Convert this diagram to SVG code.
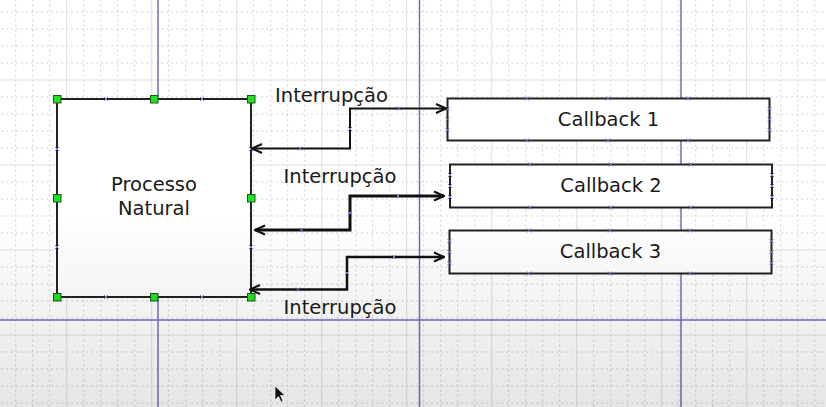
<svg xmlns="http://www.w3.org/2000/svg" width="826" height="407" viewBox="0 0 826 407">
  <defs>
    <pattern id="grid" patternUnits="userSpaceOnUse" x="66.2" y="79.5" width="85" height="85">
      <line x1="17.5" y1="0" x2="17.5" y2="85" class="minor"/>
      <line x1="34.5" y1="0" x2="34.5" y2="85" class="minor"/>
      <line x1="51.5" y1="0" x2="51.5" y2="85" class="minor"/>
      <line x1="68.5" y1="0" x2="68.5" y2="85" class="minor"/>
      <line x1="0" y1="17.5" x2="85" y2="17.5" class="minor"/>
      <line x1="0" y1="34.5" x2="85" y2="34.5" class="minor"/>
      <line x1="0" y1="51.5" x2="85" y2="51.5" class="minor"/>
      <line x1="0" y1="68.5" x2="85" y2="68.5" class="minor"/>
      <line x1="0.5" y1="0" x2="0.5" y2="85" class="major"/>
      <line x1="0" y1="0.5" x2="85" y2="0.5" class="major"/>
    </pattern>
    <linearGradient id="shade" x1="0" y1="0" x2="0" y2="1" gradientUnits="objectBoundingBox">
      <stop offset="0" stop-color="#000" stop-opacity="0"/>
      <stop offset="1" stop-color="#000" stop-opacity="0.1"/>
    </linearGradient>
    <marker id="arr" markerUnits="userSpaceOnUse" viewBox="0 0 12 12" refX="11" refY="6" markerWidth="12" markerHeight="12" orient="auto-start-reverse">
      <path d="M1,1.5 L11,6 L1,10.5" fill="none" stroke="#111" stroke-width="2"/>
    </marker>
    <g id="xm">
      <path d="M-2,-2 L2,2 M-2,2 L2,-2" stroke="#7a7ad0" stroke-width="1" fill="none"/>
    </g>
  </defs>
  <style>
    .minor { stroke: #d2d2d2; stroke-width: 1; stroke-dasharray: 2 3; }
    .major { stroke: #dedede; stroke-width: 1; }
    .guide { stroke: #6f6fbb; stroke-width: 1.5; }
    .box { fill: #ffffff; stroke: #222; stroke-width: 2; }
    .handle { fill: #22e022; stroke: #1a5a1a; stroke-width: 1; }
    .lbl { font-family: "DejaVu Sans", sans-serif; font-size: 19.5px; fill: #1a1a1a; }
    .conn { fill: none; stroke: #111; }
  </style>

  <rect x="0" y="0" width="826" height="407" fill="#ffffff"/>
  <rect x="0" y="0" width="826" height="407" fill="url(#grid)"/>

  <g id="guides">
    <line x1="158" y1="0" x2="158" y2="407" class="guide"/>
    <line x1="419.5" y1="0" x2="419.5" y2="407" class="guide"/>
    <line x1="681" y1="0" x2="681" y2="407" class="guide"/>
    <line x1="0" y1="320" x2="826" y2="320" class="guide"/>
  </g>

  <g id="processo">
    <rect x="57" y="99" width="194" height="198" class="box"/>
    <text class="lbl" x="154" y="191" text-anchor="middle">Processo</text>
    <text class="lbl" x="154" y="215" text-anchor="middle">Natural</text>
    <use href="#xm" x="106" y="99"/><use href="#xm" x="202" y="99"/>
    <use href="#xm" x="106" y="297"/><use href="#xm" x="202" y="297"/>
    <use href="#xm" x="57" y="149"/><use href="#xm" x="57" y="247"/>
    <use href="#xm" x="251" y="149"/><use href="#xm" x="251" y="247"/>
  </g>

  <g id="callback1">
    <rect x="447.5" y="98.5" width="322" height="42" class="box"/>
    <text class="lbl" x="608.5" y="125.5" text-anchor="middle">Callback 1</text>
    <use href="#xm" x="527" y="98.5"/><use href="#xm" x="608" y="98.5"/><use href="#xm" x="688" y="98.5"/>
    <use href="#xm" x="527" y="140.5"/><use href="#xm" x="608" y="140.5"/><use href="#xm" x="688" y="140.5"/>
    <use href="#xm" x="447.5" y="109"/><use href="#xm" x="447.5" y="119.5"/><use href="#xm" x="447.5" y="130"/>
    <use href="#xm" x="769.5" y="109"/><use href="#xm" x="769.5" y="119.5"/><use href="#xm" x="769.5" y="130"/>
  </g>

  <g id="callback2">
    <rect x="450" y="164.5" width="322" height="43" class="box"/>
    <text class="lbl" x="611" y="191.5" text-anchor="middle">Callback 2</text>
    <use href="#xm" x="530" y="164.5"/><use href="#xm" x="611" y="164.5"/><use href="#xm" x="691" y="164.5"/>
    <use href="#xm" x="530" y="207.5"/><use href="#xm" x="611" y="207.5"/><use href="#xm" x="691" y="207.5"/>
    <use href="#xm" x="450" y="175"/><use href="#xm" x="450" y="186"/><use href="#xm" x="450" y="197"/>
    <use href="#xm" x="772" y="175"/><use href="#xm" x="772" y="186"/><use href="#xm" x="772" y="197"/>
  </g>

  <g id="callback3">
    <rect x="449.5" y="230.5" width="322" height="43" class="box"/>
    <text class="lbl" x="610.5" y="257.5" text-anchor="middle">Callback 3</text>
    <use href="#xm" x="529" y="230.5"/><use href="#xm" x="610" y="230.5"/><use href="#xm" x="690" y="230.5"/>
    <use href="#xm" x="529" y="273.5"/><use href="#xm" x="610" y="273.5"/><use href="#xm" x="690" y="273.5"/>
    <use href="#xm" x="449.5" y="241"/><use href="#xm" x="449.5" y="252"/><use href="#xm" x="449.5" y="263"/>
    <use href="#xm" x="771.5" y="241"/><use href="#xm" x="771.5" y="252"/><use href="#xm" x="771.5" y="263"/>
  </g>

  <g id="connectors">
    <path class="conn" stroke-width="2" d="M252,148.5 L350,148.5 L350,108.5 L446,108.5" marker-start="url(#arr)" marker-end="url(#arr)"/>
    <path class="conn" stroke-width="3" d="M255,230 L350,230 L350,196 L444,196" marker-start="url(#arr)" marker-end="url(#arr)"/>
    <path class="conn" stroke-width="2.5" d="M250,289.5 L347,289.5 L347,257 L444,257" marker-start="url(#arr)" marker-end="url(#arr)"/>
    <use href="#xm" x="399" y="108.5"/><use href="#xm" x="350" y="129"/><use href="#xm" x="300" y="148.5"/>
    <use href="#xm" x="398" y="196"/><use href="#xm" x="350" y="213"/><use href="#xm" x="301.5" y="230"/>
    <use href="#xm" x="394" y="257"/><use href="#xm" x="347" y="273"/><use href="#xm" x="298" y="289.5"/>
    <text class="lbl" x="331.5" y="102" text-anchor="middle">Interrupção</text>
    <text class="lbl" x="340" y="183" text-anchor="middle">Interrupção</text>
    <text class="lbl" x="340" y="313.5" text-anchor="middle">Interrupção</text>
  </g>

  <g id="handles">
    <rect x="53.5" y="95.5" width="7.5" height="7.5" class="handle"/>
    <rect x="150.5" y="95.5" width="7.5" height="7.5" class="handle"/>
    <rect x="247.5" y="95.5" width="7.5" height="7.5" class="handle"/>
    <rect x="53.5" y="194.5" width="7.5" height="7.5" class="handle"/>
    <rect x="247.5" y="194.5" width="7.5" height="7.5" class="handle"/>
    <rect x="53.5" y="293.5" width="7.5" height="7.5" class="handle"/>
    <rect x="150.5" y="293.5" width="7.5" height="7.5" class="handle"/>
    <rect x="247.5" y="293.5" width="7.5" height="7.5" class="handle"/>
  </g>

  <path id="cursor" d="M275,386 L275,400 L278.5,396.5 L281,402 L283,401 L280.5,395.5 L285,395.5 Z" fill="#111" stroke="#fff" stroke-width="0.8"/>

  <rect x="0" y="215" width="826" height="192" fill="url(#shade)"/>
</svg>
